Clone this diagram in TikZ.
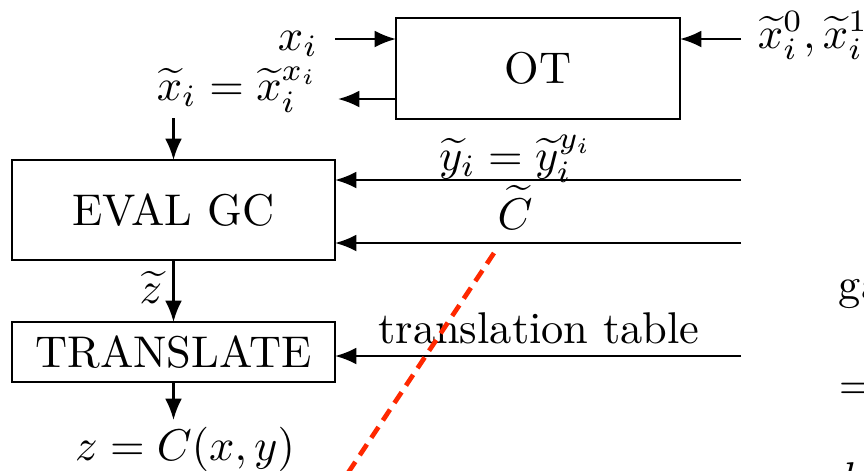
\documentclass[tikz,border=0pt]{standalone}
\usetikzlibrary{arrows.meta}
\definecolor{dashred}{RGB}{255,40,0}
\begin{document}
\begin{tikzpicture}[x=0.225pt,y=-0.225pt,
  box/.style={draw,line width=0.55pt,inner sep=0pt,outer sep=0pt},
  arr/.style={line width=0.55pt,-{Latex[length=4.8pt,width=3.8pt]}},
  lbl/.style={inner sep=0pt},
  reddash/.style={dashred,line width=1.05pt,dash pattern=on 2.9pt off 1.8pt}]
\useasboundingbox (0,0) rectangle (864,470);
\clip (0,0) rectangle (864,470);
% boxes
\node[box,minimum width=284*0.225pt,minimum height=101*0.225pt] (ot) at (538,68.5) {OT};
\node[box,minimum width=323*0.225pt,minimum height=100*0.225pt] (evalgc) at (173.5,210) {EVAL GC};
\node[box,minimum width=323*0.225pt,minimum height=60*0.225pt] (translate) at (173.5,352) {TRANSLATE};
% labels
\node[lbl,anchor=base east] (xi) at (319,50) {$x_i$};
\node[lbl,anchor=base east] (xt) at (319,100) {$\widetilde{x}_i=\widetilde{x}_i^{x_i}$};
\node[lbl,anchor=base west] (x01) at (757,48) {$\widetilde{x}_i^0,\widetilde{x}_i^1$};
\node[lbl,anchor=base] (ylbl) at (516,170) {$\widetilde{y}_i=\widetilde{y}_i^{y_i}$};
\node[lbl,anchor=base] (clbl) at (515,229) {$\widetilde{C}$};
\node[lbl,anchor=base] (ttlbl) at (539,343) {translation table};
\node[lbl,anchor=base] (zt) at (151,303) {$\widetilde{z}$};
\node[lbl,anchor=base] (zout) at (185,460) {$z=C(x,y)$};
\node[lbl,anchor=base west] (garb) at (838,299) {garbler};
\node[lbl,anchor=base west] (eqr) at (838,399) {$=$};
\node[lbl,anchor=base west] (kr) at (840,493) {$k$};
% connector ends
\coordinate (xiS) at (335,39);
\coordinate (xtE) at (338,99);
\coordinate (x01S) at (741,39);
\coordinate (xtD) at (173.5,118);
\coordinate (yS) at (741,180);
\coordinate (cS) at (741,243);
\coordinate (ttS) at (741,356);
\coordinate (zE) at (173.5,420);
% arrows
\draw[arr] (xiS) -- (xiS -| ot.west);
\draw[arr] (xtE -| ot.west) -- (xtE);
\draw[arr] (x01S) -- (x01S -| ot.east);
\draw[arr] (xtD) -- (evalgc.north);
\draw[arr] (yS) -- (yS -| evalgc.east);
\draw[arr] (cS) -- (cS -| evalgc.east);
\draw[arr] (evalgc.south) -- (translate.north);
\draw[arr] (ttS) -- (ttS -| translate.east);
\draw[arr] (translate.south) -- (zE);
% red dashed cut line
\draw[reddash] (494,253) -- (330,500);
\end{tikzpicture}
\end{document}
